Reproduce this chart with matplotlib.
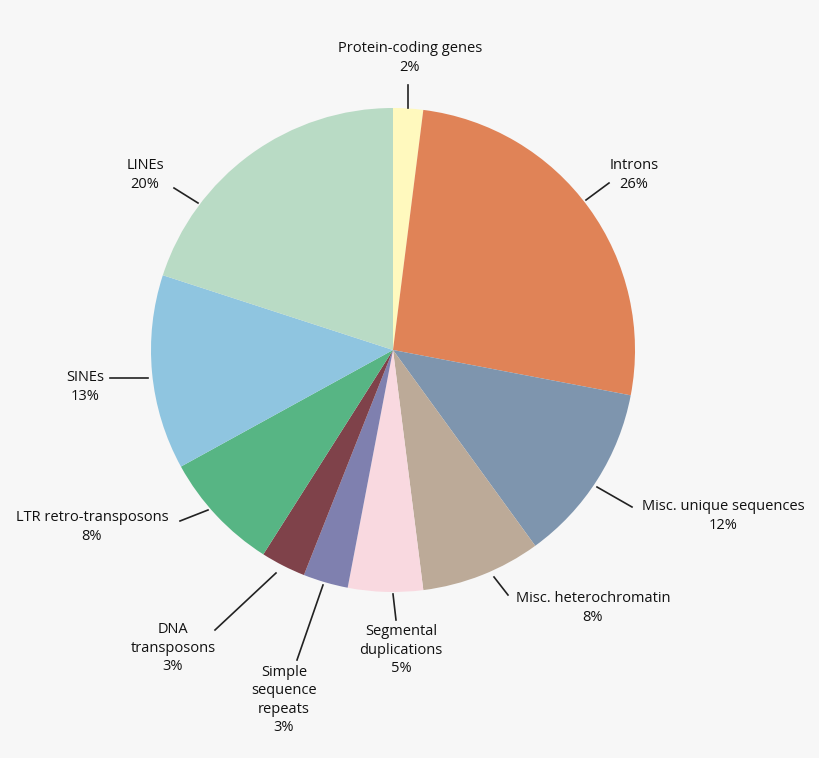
import matplotlib
matplotlib.use("Agg")
import matplotlib.pyplot as plt

labels = ["Protein-coding genes", "Introns", "Misc. unique sequences", "Misc. heterochromatin",
          "Segmental\nduplications", "Simple\nsequence\nrepeats", "DNA\ntransposons",
          "LTR retro-transposons", "SINEs", "LINEs"]
values = [2, 26, 12, 8, 5, 3, 3, 8, 13, 20]
colors = ["#FFF9BE", "#E08357", "#7E95AE", "#BCAA98", "#F9D9E0",
          "#7F80AF", "#7F424A", "#57B584", "#8FC5E0", "#B9DBC5"]

# label placement in pixels: text centre, leader line start, leader line end
text_px = [(410, 58), (634, 175), (723, 516), (593, 608), (401, 650),
           (284, 700), (173, 648), (92, 527), (85, 387), (145, 175)]
line_px = [((408, 85), (408, 108)), ((586, 200), (609, 183)), ((597, 487), (632, 507)),
           ((494, 577), (508, 595)), ((393, 594), (396, 620)), ((323, 585), (297, 660)),
           ((276, 573), (215, 630)), ((208, 510), (180, 521)), ((110, 378), (148, 378)),
           ((174, 188), (198, 203))]

W, H = 820, 758
cx, cy, R = 393, 350, 242
bg = "#F7F7F7"

fig = plt.figure(figsize=(W / 100, H / 100), dpi=100, facecolor=bg)
ax = fig.add_axes([0, 0, 1, 1])
ax.set_facecolor(bg)

# y axis is inverted below, so counterclockwise from -90 reads clockwise from the top
ax.pie(values, colors=colors, startangle=-90, counterclock=True, radius=R,
       center=(cx, cy), frame=True, wedgeprops=dict(linewidth=0))
ax.set_xlim(0, W)
ax.set_ylim(H, 0)
ax.set_aspect("auto")
ax.axis("off")

for lab, v, (tx, ty), (p0, p1) in zip(labels, values, text_px, line_px):
    ax.plot([p0[0], p1[0]], [p0[1], p1[1]], color="#222222", lw=1.2)
    ax.text(tx, ty, f"{lab}\n{v}%", ha="center", va="center", fontsize=10.5,
            family="Open Sans", color="#111111", linespacing=1.3)

fig.savefig("out.png", dpi=100, facecolor=bg)
